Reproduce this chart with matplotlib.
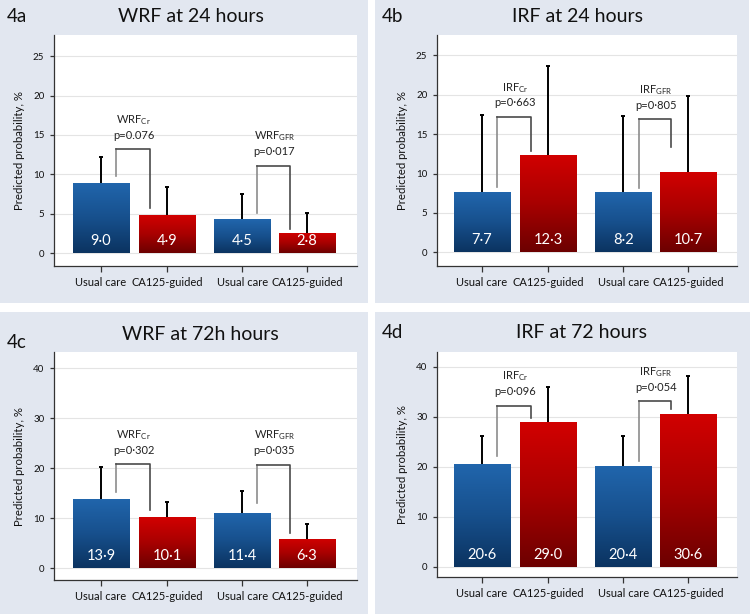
import numpy as np
import matplotlib
matplotlib.use('Agg')
import matplotlib.pyplot as plt
from matplotlib.patches import Rectangle
from matplotlib.colors import LinearSegmentedColormap

plt.rcParams['font.family'] = ['Lato', 'DejaVu Sans']
plt.rcParams['mathtext.fontset'] = 'custom'
plt.rcParams['mathtext.rm'] = 'Lato'
plt.rcParams['mathtext.it'] = 'Lato:italic'

# ---------------- data ----------------
groups = ['Usual care', 'CA125-guided', 'Usual care', 'CA125-guided']

a_title = 'WRF at 24 hours'
a_values = [8.9, 4.8, 4.3, 2.6]
a_labels = ['9·0', '4·9', '4·5', '2·8']
a_upper = [12.2, 8.4, 7.5, 5.1]
a_brackets = [[9.8, 13.2, 5.7], [5.1, 11.1, 3.0]]
a_tests = [('WRF', 'Cr', 'p=0.076'), ('WRF', 'GFR', 'p=0·017')]
a_yticks = [0, 5, 10, 15, 20, 25]

b_title = 'IRF at 24 hours'
b_values = [7.6, 12.4, 7.7, 10.2]
b_labels = ['7·7', '12·3', '8·2', '10·7']
b_upper = [17.4, 23.7, 17.3, 19.8]
b_brackets = [[8.3, 17.2, 12.9], [8.2, 16.9, 13.4]]
b_tests = [('IRF', 'Cr', 'p=0·663'), ('IRF', 'GFR', 'p=0·805')]
b_yticks = [0, 5, 10, 15, 20, 25]

c_title = 'WRF at 72h hours'
c_values = [13.9, 10.2, 11.1, 5.9]
c_labels = ['13·9', '10·1', '11·4', '6·3']
c_upper = [20.2, 13.2, 15.5, 8.8]
c_brackets = [[15.2, 20.8, 11.6], [13.0, 20.7, 7.1]]
c_tests = [('WRF', 'Cr', 'p=0·302'), ('WRF', 'GFR', 'p=0·035')]
c_yticks = [0, 10, 20, 30, 40]

d_title = 'IRF at 72 hours'
d_values = [20.7, 29.0, 20.3, 30.7]
d_labels = ['20·6', '29·0', '20·4', '30·6']
d_upper = [26.3, 36.0, 26.2, 38.3]
d_brackets = [[22.2, 32.3, 29.9], [21.2, 33.2, 31.7]]
d_tests = [('IRF', 'Cr', 'p=0·096'), ('IRF', 'GFR', 'p=0·054')]
d_yticks = [0, 10, 20, 30, 40]

# ---------------- style ----------------
W, H = 750, 614
fig = plt.figure(figsize=(W / 100, H / 100), dpi=100, facecolor='white')
PANEL_BG = '#e2e7f0'

blue_cmap = LinearSegmentedColormap.from_list('b', ['#0b3360', '#17508d', '#2166ad'])
red_cmap = LinearSegmentedColormap.from_list('r', ['#6c0000', '#a80000', '#d20000'])

xpos = np.array([0, 1, 2.14, 3.12])
bar_w = 0.85


def px_rect(x0, y0, x1, y1):
    return [x0 / W, (H - y1) / H, (x1 - x0) / W, (y1 - y0) / H]


def panel(bg, axrect, tag, tagxy, title, titlexy, values, labels, upper,
          brackets, tests, yticks, ylim, xlim):
    # background
    r = px_rect(*bg)
    fig.patches.append(Rectangle((r[0], r[1]), r[2], r[3], transform=fig.transFigure,
                                 facecolor=PANEL_BG, edgecolor='none', zorder=-10))
    fig.text(tagxy[0] / W, 1 - tagxy[1] / H, tag, fontsize=13.5, ha='left', va='center',
             color='#111111')
    fig.text(titlexy[0] / W, 1 - titlexy[1] / H, title, fontsize=14, ha='center',
             va='center', color='#111111')

    ax = fig.add_axes(px_rect(*axrect))
    ax.set_facecolor('white')
    bars = ax.bar(xpos, values, width=bar_w, color='none', edgecolor='none', zorder=3)
    grad = np.linspace(0, 1, 256).reshape(-1, 1)
    for i, b in enumerate(bars):
        cm = blue_cmap if i % 2 == 0 else red_cmap
        x0 = b.get_x()
        im = ax.imshow(grad, cmap=cm, origin='lower', aspect='auto',
                       extent=[x0, x0 + b.get_width(), 0, b.get_height()], zorder=3)
        im.set_clip_path(b)
        ax.annotate(labels[i], xy=(xpos[i], 0), xytext=(0, 8.8), textcoords='offset points',
                    ha='center', va='center', color='white', fontsize=10.5, zorder=5)
    # error bars (upper only)
    ax.vlines(xpos, values, upper, color='black', lw=1.4, zorder=4)
    ax.hlines(upper, xpos - 0.03, xpos + 0.03, color='black', lw=1.4, zorder=4)

    # brackets
    pairs = [(0, 1), (2, 3)]
    for (i, j), (lf, top, rf), (name, sub, ptxt) in zip(pairs, brackets, tests):
        xl = xpos[i] + 0.23
        xr = xpos[j] - 0.26
        ax.plot([xl, xl], [lf, top], color='#8c8c8c', lw=1.2, zorder=4)
        ax.plot([xl, xr, xr], [top, top, rf], color='#4a4a4a', lw=1.2, zorder=4)
        xm = (xpos[i] + xpos[j]) / 2
        ax.annotate(ptxt, xy=(xm, top), xytext=(0, 10), textcoords='offset points',
                    ha='center', va='center', fontsize=8, color='#222222')
        ax.annotate(name + r'$_{\mathrm{' + sub + '}}$', xy=(xm, top), xytext=(0, 21),
                    textcoords='offset points', ha='center', va='center', fontsize=8,
                    color='#222222')

    ax.set_xlim(*xlim)
    ax.set_ylim(*ylim)
    ax.set_yticks(yticks)
    ax.set_xticks(xpos)
    ax.set_xticklabels(groups)
    ax.tick_params(axis='x', length=4, width=0.9, colors='#333333', labelsize=8,
                   labelcolor='#111111', pad=4)
    ax.tick_params(axis='y', length=3, width=0.9, colors='#333333', labelsize=7,
                   labelcolor='#111111', pad=4)
    ax.grid(axis='y', color='#e4e4e4', lw=0.8, zorder=0)
    ax.set_axisbelow(True)
    for s in ['top', 'right']:
        ax.spines[s].set_visible(False)
    for s in ['left', 'bottom']:
        ax.spines[s].set_color('#333333')
        ax.spines[s].set_linewidth(0.9)
    ax.set_ylabel('Predicted probability, %', fontsize=8.2, color='#111111', labelpad=6)
    return ax


panel((0, 0, 368, 303), (54, 35, 357, 266), '4a', (7, 16), a_title, (191, 16),
      a_values, a_labels, a_upper, a_brackets, a_tests, a_yticks, (-1.65, 27.7), (-0.71, 3.88))
panel((375, 0, 749, 303), (437, 35, 737, 266), '4b', (382, 16), b_title, (577, 16),
      b_values, b_labels, b_upper, b_brackets, b_tests, b_yticks, (-1.75, 27.6), (-0.68, 3.86))
panel((0, 312, 368, 614), (54, 352, 357, 580), '4c', (7, 342), c_title, (200, 335),
      c_values, c_labels, c_upper, c_brackets, c_tests, c_yticks, (-2.4, 43.2), (-0.71, 3.88))
panel((375, 312, 750, 614), (437, 352, 737, 577), '4d', (382, 333), d_title, (581, 333),
      d_values, d_labels, d_upper, d_brackets, d_tests, d_yticks, (-2.0, 43.0), (-0.68, 3.86))

fig.savefig('out.png', dpi=100, facecolor='white')
